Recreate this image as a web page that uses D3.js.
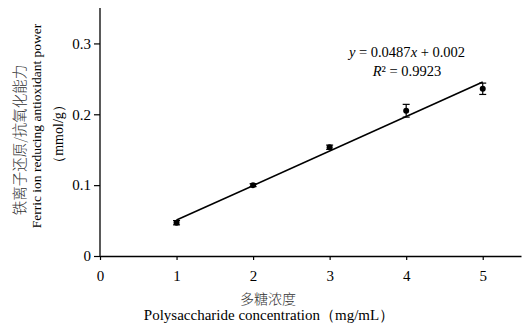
<!DOCTYPE html>
<html><head><meta charset="utf-8">
<script src="https://cdn.jsdelivr.net/npm/d3@7/dist/d3.min.js"></script>
<style>body{margin:0;background:#fff}svg{display:block}</style>
</head><body>
<svg id="c" width="526" height="325"></svg>
<script>
const concentrations = [1, 2, 3, 4, 5];
const frapValues = [0.047, 0.100, 0.1535, 0.205, 0.236];
const frapErrors = [0.003, 0.002, 0.003, 0.009, 0.008];
const xTicks = [0, 1, 2, 3, 4, 5];
const yTicks = [0, 0.1, 0.2, 0.3];
const slope = 0.0487, intercept = 0.002;

const svg = d3.select("#c");
const serif = "'Liberation Serif','Times New Roman',serif";
const cjk = "'Noto Sans CJK SC',sans-serif";
const x = d3.scaleLinear().domain([0, 5.5]).range([100, 521]);
const y = d3.scaleLinear().domain([0, 0.35]).range([256, 8]);

// axes
const xa = svg.append("g").attr("transform", "translate(0,256)")
  .call(d3.axisBottom(x).tickValues(xTicks).tickFormat(d3.format("d")).tickSizeInner(4).tickSizeOuter(0));
const ya = svg.append("g").attr("transform", "translate(100,0)")
  .call(d3.axisLeft(y).tickValues(yTicks).tickFormat(d => d === 0 ? "0" : d3.format(".1f")(d)).tickSizeInner(6).tickSizeOuter(0));
[xa, ya].forEach(a => {
  a.select(".domain").attr("stroke", "#000").attr("stroke-width", 1.3);
  a.selectAll(".tick line").attr("stroke", "#000").attr("stroke-width", 1.2);
  a.selectAll("text").attr("font-family", serif).attr("font-size", 15).attr("fill", "#000");
});
xa.selectAll("text").attr("y", 14.5).attr("dy", "0.71em");
ya.selectAll("text").attr("x", -9);
ya.select(".domain").attr("d", `M0,${y(0)}V${y(0.35)}`);

// regression line
svg.append("line")
  .attr("x1", x(1)).attr("y1", y(slope * 1 + intercept))
  .attr("x2", x(5)).attr("y2", y(slope * 5 + intercept))
  .attr("stroke", "#000").attr("stroke-width", 1.6);

// error bars
const data = concentrations.map((c, i) => ({c, v: frapValues[i], e: frapErrors[i]}));
const eb = svg.append("g").selectAll("g").data(data).join("g");
eb.append("line").attr("x1", d => x(d.c)).attr("x2", d => x(d.c))
  .attr("y1", d => y(d.v - d.e)).attr("y2", d => y(d.v + d.e)).attr("stroke", "#000").attr("stroke-width", 1.2);
eb.append("line").attr("x1", d => x(d.c) - 3.5).attr("x2", d => x(d.c) + 3.5)
  .attr("y1", d => y(d.v + d.e)).attr("y2", d => y(d.v + d.e)).attr("stroke", "#000").attr("stroke-width", 1.2);
eb.append("line").attr("x1", d => x(d.c) - 3.5).attr("x2", d => x(d.c) + 3.5)
  .attr("y1", d => y(d.v - d.e)).attr("y2", d => y(d.v - d.e)).attr("stroke", "#000").attr("stroke-width", 1.2);
eb.append("circle").attr("cx", d => x(d.c)).attr("cy", d => y(d.v)).attr("r", 3).attr("fill", "#000");

// equation
const eq = svg.append("text").attr("font-family", serif).attr("font-size", 14.5).attr("text-anchor", "middle").attr("fill", "#000");
eq.append("tspan").attr("x", 407).attr("y", 57)
  .html('<tspan font-style="italic">y</tspan> = 0.0487<tspan font-style="italic">x</tspan> + 0.002');
eq.append("tspan").attr("x", 407).attr("y", 76)
  .html('<tspan font-style="italic">R</tspan>² = 0.9923');

// y title
const yt = svg.append("g").attr("transform", "translate(0,126) rotate(-90)");
yt.append("text").attr("x", -14).attr("y", 25).attr("text-anchor", "middle")
  .attr("font-family", cjk).attr("font-size", 14.5).attr("font-weight", 300).attr("fill", "#333").text("铁离子还原/抗氧化能力");
yt.append("text").attr("x", 0).attr("y", 41).attr("text-anchor", "middle")
  .attr("font-family", serif).attr("font-size", 13.5).attr("fill", "#000").text("Ferric ion reducing antioxidant power");
yt.append("text").attr("x", -8).attr("y", 63).attr("text-anchor", "middle")
  .attr("font-family", serif).attr("font-size", 14).attr("fill", "#000").text("（mmol/g）");

// x title
svg.append("text").attr("x", 268).attr("y", 304).attr("text-anchor", "middle")
  .attr("font-family", cjk).attr("font-size", 14).attr("font-weight", 300).attr("fill", "#333").text("多糖浓度");
svg.append("text").attr("x", 269).attr("y", 320).attr("text-anchor", "middle")
  .attr("font-family", serif).attr("font-size", 15).attr("fill", "#000").text("Polysaccharide concentration（mg/mL）");
</script>
</body></html>
